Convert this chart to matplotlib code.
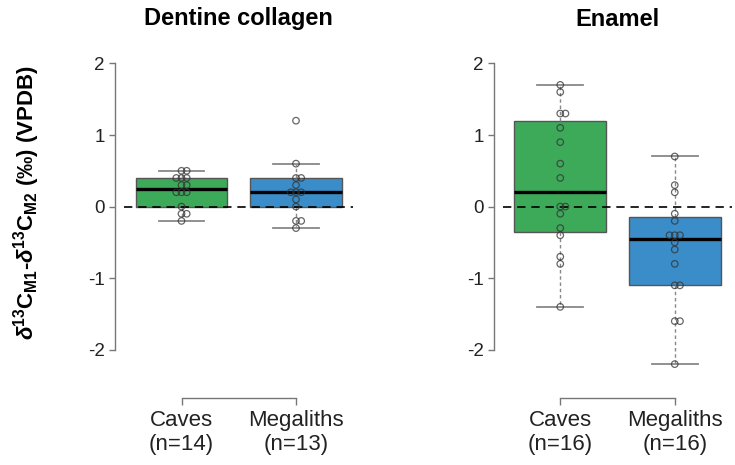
import numpy as np
import matplotlib
matplotlib.use("Agg")
import matplotlib.pyplot as plt

plt.rcParams["font.family"] = ["Liberation Sans", "DejaVu Sans"]
plt.rcParams["mathtext.fontset"] = "custom"
plt.rcParams["mathtext.rm"] = "Liberation Sans"
plt.rcParams["mathtext.it"] = "Liberation Sans:italic"
plt.rcParams["mathtext.bf"] = "Liberation Sans:bold"
plt.rcParams["mathtext.bfit"] = "Liberation Sans:bold:italic"

# data: delta13C M1 - M2 differences (per mil)
groups = ["Caves", "Megaliths"]
dentine_caves = [0.5, 0.5, 0.4, 0.4, 0.4, 0.3, 0.3, 0.2, 0.2, 0.2, 0.0, -0.1, -0.1, -0.2]
dentine_megaliths = [1.2, 0.6, 0.4, 0.4, 0.3, 0.2, 0.2, 0.2, 0.1, 0.0, -0.2, -0.2, -0.3]
enamel_caves = [1.7, 1.6, 1.3, 1.3, 1.1, 0.9, 0.6, 0.4, 0.0, 0.0, -0.1, -0.3, -0.4, -0.7, -0.8, -1.4]
enamel_megaliths = [0.7, 0.3, 0.2, -0.1, -0.2, -0.4, -0.4, -0.4, -0.5, -0.6, -0.8, -1.1, -1.1, -1.6, -1.6, -2.2]

panels = [
    ("Dentine collagen", [dentine_caves, dentine_megaliths]),
    ("Enamel", [enamel_caves, enamel_megaliths]),
]
colors = ["#3DAA5A", "#3A8DC9"]


def fivenum(x):
    x = np.sort(np.asarray(x, dtype=float))
    n = len(x)
    n4 = np.floor((n + 3) / 2) / 2
    d = np.array([1, n4, (n + 1) / 2, n + 1 - n4, n]) - 1
    return 0.5 * (x[np.floor(d).astype(int)] + x[np.ceil(d).astype(int)])


def box_stats(x):
    lo, q1, med, q3, hi = fivenum(x)
    iqr = q3 - q1
    x = np.asarray(x)
    wlo = x[x >= q1 - 1.5 * iqr - 1e-9].min()
    whi = x[x <= q3 + 1.5 * iqr + 1e-9].max()
    return dict(med=med, q1=q1, q3=q3, whislo=wlo, whishi=whi, fliers=[])


def swarm_offsets(vals, step):
    # stack equal values side by side: centre, right, left, ...
    order = [0, 1, -1, 2, -2]
    seen = {}
    offs = []
    for v in vals:
        k = round(v, 3)
        i = seen.get(k, 0)
        seen[k] = i + 1
        offs.append(order[i] * step)
    return np.array(offs)


W, H = 735, 465
fig = plt.figure(figsize=(W / 100, H / 100), dpi=100)

ppu = 71.6       # pixels per y unit
y0 = 206.6       # pixel row of y = 0
ylo, yhi = -2.3, 2.1
top = y0 - yhi * ppu
bot = y0 - ylo * ppu
lefts = [124.25, 503.0]
width_px = 229.0

for (title, data), left in zip(panels, lefts):
    ax = fig.add_axes([left / W, (H - bot) / H, width_px / W, (bot - top) / H])
    ax.set_xlim(0.5, 2.5)
    ax.set_ylim(ylo, yhi)

    stats = [box_stats(d) for d in data]
    bp = ax.bxp(stats, positions=[1, 2], widths=0.8, patch_artist=True,
                showfliers=False, capwidths=0.4,
                boxprops=dict(edgecolor="#555555", linewidth=1.0),
                whiskerprops=dict(color="#888888", linestyle=(0, (2.5, 2)), linewidth=1.0),
                capprops=dict(color="#888888", linewidth=1.3),
                medianprops=dict(color="black", linewidth=2.4))
    for patch, c in zip(bp["boxes"], colors):
        patch.set_facecolor(c)

    ax.axhline(0, color="black", linewidth=1.2, linestyle=(0, (5, 3.5)), zorder=4)

    step = 5.2 / (width_px / 2.0)
    for i, d in enumerate(data):
        xs = i + 1 + swarm_offsets(d, step)
        ax.scatter(xs, d, s=22, facecolors="none", edgecolors="#333333",
                   linewidths=0.9, alpha=0.75, zorder=5)

    for s in ["top", "right"]:
        ax.spines[s].set_visible(False)
    ax.spines["left"].set_position(("outward", 6.5))
    ax.spines["left"].set_bounds(-2, 2)
    ax.spines["bottom"].set_position(("outward", 19))
    ax.spines["bottom"].set_bounds(1, 2)
    for s in ["left", "bottom"]:
        ax.spines[s].set_color("#777777")
        ax.spines[s].set_linewidth(1.0)

    ax.set_yticks([-2, -1, 0, 1, 2])
    ax.set_yticklabels(["-2", "-1", "0", "1", "2"])
    ax.tick_params(axis="y", length=4.5, width=1.0, color="#777777",
                   labelsize=13.5, labelcolor="#222222", pad=3)
    ax.set_xticks([1, 2])
    ax.set_xticklabels([f"{g}\n(n={len(d)})" for g, d in zip(groups, data)],
                       linespacing=1.15)
    ax.tick_params(axis="x", length=5, width=1.0, color="#777777",
                   labelsize=16, labelcolor="#222222", pad=4)

    fig.text((left + width_px / 2) / W, 1 - 19 / H, title, ha="center", va="center",
             fontsize=17, fontweight="bold")

fig.text(27 / W, 1 - 203 / H,
         r"$\boldsymbol{\delta}^{\mathbf{13}}\mathbf{C}_{\mathbf{M1}}$-"
         r"$\boldsymbol{\delta}^{\mathbf{13}}\mathbf{C}_{\mathbf{M2}}$ (‰) (VPDB)",
         rotation=90, ha="center", va="center", fontsize=16, fontweight="bold")

fig.savefig("out.png", dpi=100)
